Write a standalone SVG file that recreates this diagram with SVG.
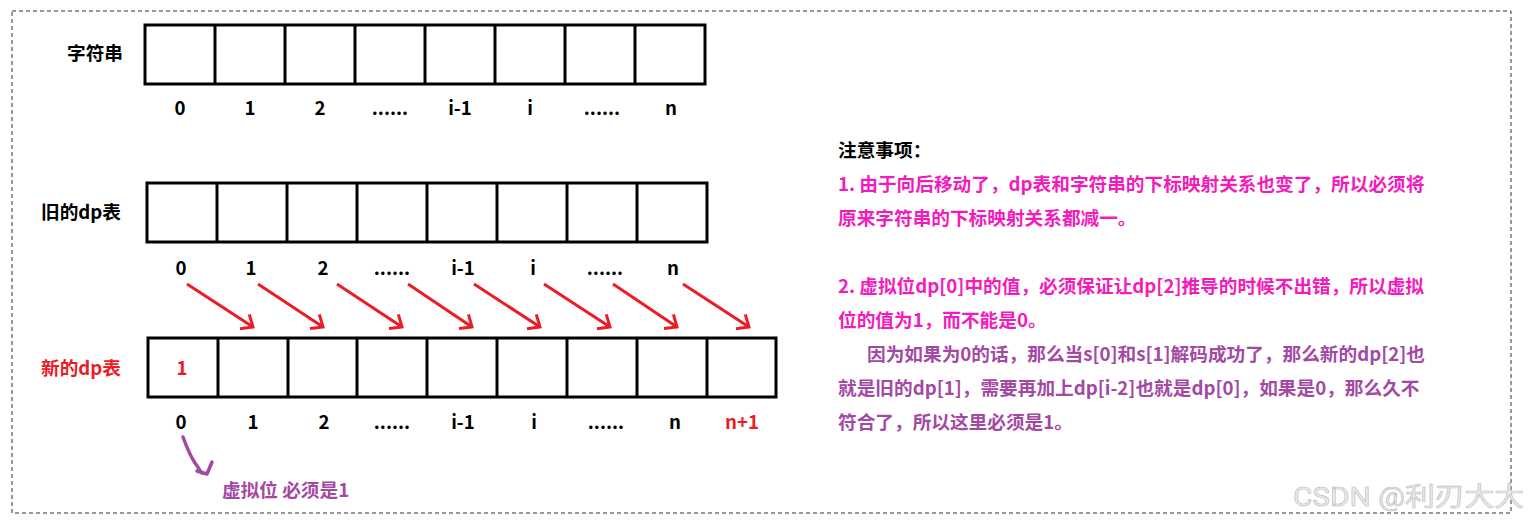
<svg xmlns="http://www.w3.org/2000/svg" width="1529" height="524" viewBox="0 0 1529 524">
<defs>
<style>
.t{font-family:"Microsoft YaHei","Noto Sans CJK SC","Noto Sans",sans-serif;font-weight:bold;font-size:18.67px}
.c{text-anchor:middle}
.blk{fill:#000}
.red{fill:#ED1C24}
.pk{fill:#F21CBC}
.pu{fill:#A349A4}
.cell{fill:#fff;stroke:#000;stroke-width:3}
.arr{fill:none;stroke:#ED1C24;stroke-width:3}
</style>
<marker id="ah" markerUnits="userSpaceOnUse" markerWidth="30" markerHeight="30" refX="0" refY="0" viewBox="-15 -15 30 30" orient="auto" overflow="visible">
<path d="M-10,-8.5 L0,0 L-10,8.5" fill="none" stroke="#ED1C24" stroke-width="3" stroke-linejoin="miter"/>
</marker>
</defs>
<rect x="0" y="0" width="1529" height="524" fill="#fff"/>
<rect x="12" y="11" width="1499" height="502" fill="none" stroke="#333" stroke-width="1" stroke-dasharray="4 3"/>

<g id="string-table">
<text class="t blk" x="95" y="60" text-anchor="middle">字符串</text>
<rect class="cell" x="145" y="25" width="560" height="59"/>
<path d="M215,25V84M285,25V84M355,25V84M425,25V84M495,25V84M565,25V84M635,25V84" stroke="#000" stroke-width="3"/>
<g class="t blk c">
<text x="180" y="115">0</text><text x="250" y="115">1</text><text x="320" y="115">2</text><text x="390" y="115">......</text><text x="460" y="115">i-1</text><text x="530" y="115">i</text><text x="602" y="115">......</text><text x="671" y="115">n</text>
</g>
</g>

<g id="old-dp-table">
<text class="t blk" x="81" y="219" text-anchor="middle">旧的dp表</text>
<rect class="cell" x="147" y="183" width="560" height="59"/>
<path d="M217,183V242M287,183V242M357,183V242M427,183V242M497,183V242M567,183V242M637,183V242" stroke="#000" stroke-width="3"/>
<g class="t blk c">
<text x="181" y="275">0</text><text x="251" y="275">1</text><text x="323" y="275">2</text><text x="392" y="275">......</text><text x="463" y="275">i-1</text><text x="533" y="275">i</text><text x="605" y="275">......</text><text x="673" y="275">n</text>
</g>
</g>

<g id="new-dp-table">
<text class="t red" x="81" y="375" text-anchor="middle">新的dp表</text>
<rect class="cell" x="148" y="338" width="628" height="59"/>
<path d="M218,338V397M288,338V397M357,338V397M427,338V397M497,338V397M567,338V397M637,338V397M707,338V397" stroke="#000" stroke-width="3"/>
<text class="t red c" x="182" y="375">1</text>
<g class="t blk c">
<text x="181" y="429">0</text><text x="253" y="429">1</text><text x="324" y="429">2</text><text x="392" y="429">......</text><text x="463" y="429">i-1</text><text x="534" y="429">i</text><text x="606" y="429">......</text><text x="675" y="429">n</text>
</g>
<text class="t red c" x="742" y="429">n+1</text>
</g>

<g id="connectors">
<g class="arr">
<line x1="187" y1="284" x2="253" y2="327" marker-end="url(#ah)"/>
<line x1="258" y1="284" x2="323" y2="327" marker-end="url(#ah)"/>
<line x1="337" y1="284" x2="402" y2="327" marker-end="url(#ah)"/>
<line x1="408" y1="284" x2="472" y2="327" marker-end="url(#ah)"/>
<line x1="474" y1="284" x2="540" y2="327" marker-end="url(#ah)"/>
<line x1="544" y1="284" x2="610" y2="327" marker-end="url(#ah)"/>
<line x1="613" y1="284" x2="677" y2="327" marker-end="url(#ah)"/>
<line x1="683" y1="284" x2="749" y2="327" marker-end="url(#ah)"/>
</g>
<path d="M183,437 C187,448 191,457 195,463 C199,468 199,470 202,473" fill="none" stroke="#A349A4" stroke-width="3.5" stroke-linecap="round"/>
<path d="M212,462 L207,474 L197,471" fill="none" stroke="#A349A4" stroke-width="3.5" stroke-linecap="round" stroke-linejoin="round"/>
</g>

<g id="virtual-note">
<text class="t pu" x="222" y="497">虚拟位 必须是1</text>
</g>

<g id="notes">
<text class="t blk" x="838" y="157">注意事项：</text>
<text class="t pk" x="838" y="191">1. 由于向后移动了，dp表和字符串的下标映射关系也变了，所以必须将</text>
<text class="t pk" x="838" y="225">原来字符串的下标映射关系都减一。</text>
<text class="t pk" x="838" y="293">2. 虚拟位dp[0]中的值，必须保证让dp[2]推导的时候不出错，所以虚拟</text>
<text class="t pk" x="838" y="327">位的值为1，而不能是0。</text>
<text class="t pu" x="867" y="361">因为如果为0的话，那么当s[0]和s[1]解码成功了，那么新的dp[2]也</text>
<text class="t pu" x="838" y="395">就是旧的dp[1]，需要再加上dp[i-2]也就是dp[0]，如果是0，那么久不</text>
<text class="t pu" x="838" y="429">符合了，所以这里必须是1。</text>
</g>

<g id="watermark">
<text x="1293" y="506" font-family="Roboto,'Noto Sans CJK SC',sans-serif" font-size="26" textLength="231" lengthAdjust="spacingAndGlyphs" fill="#ececec" stroke="#bcbcbc" stroke-width="0.6">CSDN @利刃大大</text>
</g>
</svg>
